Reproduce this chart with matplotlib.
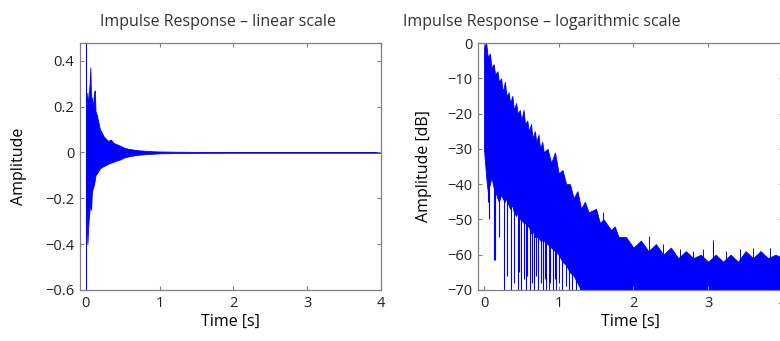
import matplotlib as mpl
mpl.use('Agg')
import matplotlib.pyplot as plt

plt.rcParams['font.family'] = ['Open Sans', 'DejaVu Sans']

# linear scale: envelope of the impulse response
t_lin = [0.0, 0.01, 0.02, 0.03, 0.04, 0.05, 0.06, 0.07, 0.08, 0.09, 0.10, 0.11,
         0.12, 0.13, 0.15, 0.17, 0.19, 0.21, 0.24, 0.27, 0.30, 0.34, 0.38, 0.42,
         0.47, 0.52, 0.58, 0.65, 0.72, 0.80, 0.90, 1.0, 1.2, 1.5, 2.0, 4.0]
upper_lin = [0.02, 0.22, 0.26, 0.20, 0.25, 0.30, 0.37, 0.22, 0.24, 0.20, 0.22, 0.26,
             0.27, 0.18, 0.16, 0.13, 0.10, 0.09, 0.07, 0.06, 0.05, 0.055, 0.04, 0.035,
             0.028, 0.02, 0.015, 0.012, 0.009, 0.007, 0.005, 0.004, 0.003, 0.002, 0.0015, 0.0015]
lower_lin = [-0.02, -0.30, -0.40, -0.33, -0.28, -0.25, -0.22, -0.25, -0.18, -0.16, -0.15, -0.14,
             -0.12, -0.10, -0.09, -0.08, -0.07, -0.065, -0.06, -0.055, -0.05, -0.045, -0.04, -0.035,
             -0.03, -0.022, -0.017, -0.013, -0.01, -0.008, -0.006, -0.004, -0.003, -0.002, -0.0015, -0.0015]
direct_t = 0.0
direct_range = [-0.9, 0.9]

# log scale (dB): top and bottom of the dense band
t_db = [0.00, 0.03, 0.05, 0.08, 0.10, 0.13, 0.15, 0.18, 0.20, 0.23, 0.25, 0.28, 0.30,
        0.33, 0.35, 0.38, 0.40, 0.43, 0.45, 0.48, 0.50, 0.53, 0.55, 0.58, 0.60, 0.63,
        0.65, 0.68, 0.70, 0.73, 0.75, 0.78, 0.80, 0.85, 0.90, 0.95, 1.00, 1.05, 1.10,
        1.15, 1.20, 1.25, 1.30, 1.35, 1.40, 1.50, 1.55, 1.60, 1.70, 1.75, 1.80, 1.90,
        2.00, 2.10, 2.20, 2.30, 2.40, 2.50, 2.60, 2.70, 2.80, 2.90, 3.00, 3.10, 3.20,
        3.30, 3.40, 3.50, 3.60, 3.70, 3.80, 3.90, 4.00]
upper_db = [-1, 0, -4, -3, -7, -6, -9, -8, -11, -10, -14, -11, -15,
            -14, -17, -15, -19, -17, -20, -19, -22, -19, -23, -22, -25, -23,
            -27, -25, -28, -26, -30, -28, -31, -30, -34, -31, -37, -36, -40,
            -40, -44, -42, -47, -45, -48, -47, -51, -50, -53, -52, -55, -55,
            -58, -56, -59, -57, -60, -58, -61, -59, -61, -60, -62, -60, -62,
            -60, -62, -59, -61, -59, -61, -60, -61]
lower_db = [-30, -38, -42, -40, -38, -41, -42, -44, -45, -43, -44, -45, -44,
            -46, -47, -46, -48, -49, -48, -50, -50, -51, -51, -52, -52, -54,
            -53, -55, -55, -55, -56, -56, -56, -57, -58, -59, -60, -62, -63,
            -65, -66, -68, -70] + [-70] * 30
# deep notches below the band
dip_t = [0.05, 0.07, 0.13, 0.15, 0.20, 0.27, 0.31, 0.36, 0.40, 0.45, 0.47, 0.50, 0.53,
         0.56, 0.58, 0.61, 0.64, 0.67, 0.70, 0.72, 0.76, 0.79, 0.81, 0.83, 0.88, 0.92,
         0.95, 0.97, 1.01, 1.05, 1.10, 1.14, 1.18, 1.23, 1.28]
dip_db = [-45, -50, -61.5, -61.5, -55, -70, -66, -70, -68, -70, -65, -70, -67,
          -70, -66, -70, -68, -70, -66, -70, -68, -70, -67, -70, -68, -70,
          -67, -70, -68, -70, -69, -70, -70, -70, -70]
dip_top = [-35, -35, -38, -38, -40, -40, -40, -40, -42, -42, -42, -42, -42,
           -42, -42, -42, -42, -42, -42, -42, -42, -42, -42, -42, -42, -42,
           -42, -42, -45, -45, -48, -48, -50, -50, -52]
# isolated peaks above the band
peak_t = [0.875, 1.59, 2.21, 2.39, 2.50, 2.62, 2.79, 2.93, 3.06, 3.24, 3.42, 3.60, 3.69, 3.82]
peak_db = [-35, -48, -54.8, -57, -59, -58.5, -59, -58.5, -55.8, -59, -58.5, -58, -59, -58]

fig = plt.figure(figsize=(7.8, 3.41), dpi=100)
ax1 = fig.add_axes([0.1026, 0.1496, 0.3859, 0.7243])
ax2 = fig.add_axes([0.6128, 0.1496, 0.391, 0.7243])

ax1.fill_between(t_lin, lower_lin, upper_lin, color='blue', lw=0.6)
ax1.vlines(direct_t, direct_range[0], direct_range[1], color='blue', lw=0.8)
ax1.set_xlim(-0.08, 4)
ax1.set_ylim(-0.6, 0.477)
ax1.set_yticks([-0.6, -0.4, -0.2, 0, 0.2, 0.4])
ax1.set_yticklabels(['\u22120.6', '\u22120.4', '\u22120.2', '0', '0.2', '0.4'])
ax1.set_ylabel('Amplitude', fontsize=11.5)
ax1.yaxis.set_label_coords((19 - 80) / 301, 0.5)

ax2.vlines(dip_t, dip_db, dip_top, color='blue', lw=0.8)
ax2.vlines(peak_t, -70, peak_db, color='blue', lw=0.7)
ax2.fill_between(t_db, lower_db, upper_db, color='blue', lw=0.6)
ax2.set_xlim(-0.08, 4)
ax2.set_ylim(-70, 0)
ax2.set_yticks(range(-70, 1, 10))
ax2.set_ylabel('Amplitude [dB]', fontsize=11.5)
ax2.yaxis.set_label_coords((424 - 478) / 305, 0.5)

for ax in (ax1, ax2):
    ax.yaxis.label.set_va('center')
    ax.set_xticks([0, 1, 2, 3, 4])
    ax.set_xlabel('Time [s]', fontsize=11.5)
    ax.xaxis.set_label_coords(0.5, (290 - 322) / 247)
    ax.xaxis.label.set_va('center')
    ax.tick_params(direction='in', top=True, right=True, labelsize=10.5, length=3,
                   color='#808080', labelcolor='#222222', pad=4)
    for s in ax.spines.values():
        s.set_color('#808080')
        s.set_linewidth(0.9)

fig.text(218 / 780, 1 - 26 / 341, 'Impulse Response \u2013 linear scale',
         ha='center', va='baseline', fontsize=11.5, color='#333333')
fig.text(542 / 780, 1 - 26 / 341, 'Impulse Response \u2013 logarithmic scale',
         ha='center', va='baseline', fontsize=11.5, color='#333333')

plt.savefig('out.png', dpi=100)
